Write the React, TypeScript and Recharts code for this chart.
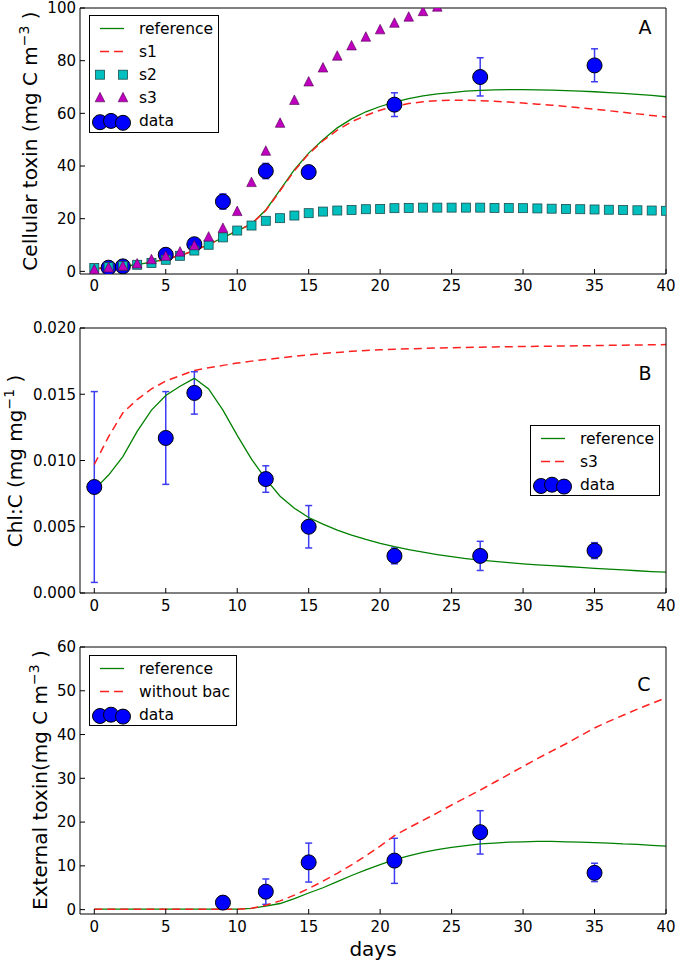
import React from "react";
import { ComposedChart, Line, Scatter, XAxis, YAxis, ErrorBar, Legend } from "recharts";

// ---- shared ----
const days = [
  0, 1, 2, 3, 4, 5, 6, 7, 8, 9, 10, 11, 12, 13, 14, 15, 16, 17, 18, 19, 20,
  21, 22, 23, 24, 25, 26, 27, 28, 29, 30, 31, 32, 33, 34, 35, 36, 37, 38, 39, 40,
];
const xTicks = [0, 5, 10, 15, 20, 25, 30, 35, 40];

// ---- panel A: cellular toxin ----
const aReference = [
  1.0, 1.4, 1.9, 2.6, 3.5, 4.6, 6.0, 7.9, 10.2, 12.8, 15.4, 18.0, 23.3, 30.9, 38.6, 44.9, 50.0,
  54.5, 57.9, 60.6, 62.6, 64.3, 65.6, 66.6, 67.4, 67.9, 68.4, 68.7, 68.9, 69.0, 69.0, 68.9, 68.8,
  68.6, 68.4, 68.2, 67.9, 67.6, 67.2, 66.8, 66.3,
];
const aS1 = [
  1.0, 1.4, 1.9, 2.6, 3.5, 4.6, 6.0, 7.9, 10.2, 12.8, 15.4, 18.0, 23.1, 30.6, 38.2, 44.6, 49.6,
  53.6, 56.8, 59.2, 61.2, 62.7, 63.7, 64.4, 64.8, 65.0, 65.0, 64.8, 64.6, 64.3, 63.9, 63.5, 63.1,
  62.6, 62.1, 61.6, 61.0, 60.4, 59.8, 59.2, 58.6,
];
const aS2 = [
  1.3, 1.6, 2.0, 2.5, 3.2, 4.4, 5.9, 7.9, 10.1, 12.9, 15.5, 17.4, 19.2, 20.2, 21.2, 22.1, 22.7,
  23.1, 23.3, 23.6, 23.7, 24.0, 24.1, 24.2, 24.2, 24.2, 24.2, 24.2, 24.1, 24.1, 24.0, 23.9, 23.8,
  23.7, 23.6, 23.5, 23.4, 23.3, 23.2, 23.1, 23.0,
];
const aS3 = [
  0.6, 1.3, 1.9, 2.8, 4.4, 5.7, 7.3, 9.7, 13.0, 16.3, 22.7, 33.7, 45.6, 56.2, 64.9, 71.9, 77.2,
  81.7, 85.6, 88.9, 91.7, 94.2, 96.5, 98.6, 100.3,
];
const aObsDays = [1, 2, 5, 7, 9, 12, 15, 21, 27, 35];
const aObsMean = [1.4, 1.9, 6.3, 10.3, 26.5, 38.1, 37.7, 63.3, 73.8, 78.2];
const aObsLow = [1.4, 1.9, 6.0, 9.9, 23.6, 35.2, 37.2, 58.8, 66.6, 72.0];
const aObsHigh = [1.4, 1.9, 6.6, 10.7, 29.4, 41.0, 38.2, 67.8, 81.1, 84.5];
const aTicks = [0, 20, 40, 60, 80, 100];

// ---- panel B: Chl:C ----
const bReference = [
  0.0078, 0.0089, 0.0103, 0.0122, 0.0138, 0.0149, 0.0156, 0.0162, 0.0154, 0.0138, 0.0119, 0.0101,
  0.0086, 0.0073, 0.0064, 0.0057, 0.0052, 0.00475, 0.00437, 0.00404, 0.00375, 0.0035, 0.00328,
  0.00308, 0.0029, 0.00274, 0.0026, 0.00248, 0.00238, 0.00229, 0.0022, 0.00213, 0.00206, 0.002,
  0.00194, 0.00186, 0.0018, 0.00174, 0.00168, 0.00162, 0.00157,
];
const bS3 = [
  0.0097, 0.0118, 0.0136, 0.0146, 0.0154, 0.016, 0.0164, 0.0168, 0.017, 0.01718, 0.01735, 0.0175,
  0.01762, 0.01774, 0.01786, 0.01798, 0.01808, 0.01816, 0.01824, 0.01831, 0.01836, 0.0184, 0.01843,
  0.01846, 0.01849, 0.01851, 0.01853, 0.01855, 0.01857, 0.01859, 0.0186, 0.01862, 0.01863, 0.01864,
  0.01866, 0.01867, 0.01869, 0.0187, 0.01872, 0.01873, 0.01875,
];
const bObsDays = [0, 5, 7, 12, 15, 21, 27, 35];
const bObsMean = [0.008, 0.0117, 0.0151, 0.0086, 0.005, 0.0028, 0.0028, 0.0032];
const bObsLow = [0.0008, 0.0082, 0.0135, 0.0076, 0.0034, 0.0022, 0.0017, 0.0026];
const bObsHigh = [0.0152, 0.0152, 0.0167, 0.0096, 0.0066, 0.0034, 0.0039, 0.0038];
const bTicks = [0, 0.005, 0.01, 0.015, 0.02];

// ---- panel C: external toxin ----
const cReference = [
  0.1, 0.1, 0.1, 0.1, 0.1, 0.1, 0.1, 0.1, 0.1, 0.1, 0.1, 0.3, 0.8, 1.4, 2.5, 3.8, 5.0, 6.4, 7.8,
  9.1, 10.3, 11.4, 12.3, 13.1, 13.7, 14.2, 14.6, 15.0, 15.2, 15.4, 15.5, 15.6, 15.6, 15.5, 15.4,
  15.3, 15.2, 15.0, 14.9, 14.7, 14.5,
];
const cWithoutBac = [
  0.1, 0.1, 0.1, 0.1, 0.1, 0.1, 0.1, 0.1, 0.1, 0.1, 0.1, 0.3, 1.0, 2.0, 3.3, 4.8, 6.5, 8.3, 10.2,
  12.3, 14.5, 16.9, 18.7, 20.4, 22.1, 23.9, 25.6, 27.3, 29.1, 30.9, 32.7, 34.5, 36.2, 37.9, 39.7,
  41.5, 43.0, 44.4, 45.8, 47.1, 48.4,
];
const cObsDays = [9, 12, 15, 21, 27, 35];
const cObsMean = [1.6, 4.1, 10.8, 11.2, 17.7, 8.4];
const cObsLow = [1.2, 1.2, 6.3, 6.0, 12.7, 6.4];
const cObsHigh = [2.0, 7.0, 15.2, 16.3, 22.6, 10.6];
const cTicks = [0, 10, 20, 30, 40, 50, 60];

// ---- helpers ----
const curve = (ys: number[]) => ys.map((y, i) => ({ x: days[i], y }));
const obs = (xs: number[], mean: number[], low: number[], high: number[]) =>
  xs.map((x, i) => ({ x, y: mean[i], err: [mean[i] - low[i], high[i] - mean[i]] }));

const FONT = "DejaVu Sans";
const GREEN = "#008000";
const RED = "#ff2020";
const frame = { stroke: "#000", strokeWidth: 1 };
const tickFont = { fontFamily: FONT, fontSize: 15, fill: "#000" };

const DataDot = (p: any) => (
  <circle cx={p.cx} cy={p.cy} r={7.5} fill="#0000ff" stroke="#000" strokeWidth={1} />
);
const SquareDot = (p: any) => (
  <rect x={p.cx - 4.5} y={p.cy - 4.5} width={9} height={9} fill="#00bfbf" stroke="#1d4d4d" strokeWidth={0.8} />
);
const TriangleDot = (p: any) => (
  <polygon
    points={`${p.cx},${p.cy - 5.5} ${p.cx + 4.8},${p.cy + 4} ${p.cx - 4.8},${p.cy + 4}`}
    fill="#bf00bf"
    stroke="#4a004a"
    strokeWidth={0.6}
  />
);

type Item = { label: string; kind: "line" | "dash" | "square" | "triangle" | "data" };

function LegendBox({ items, width, height }: { items: Item[]; width: number; height: number }) {
  return (
    <svg width={width} height={height} style={{ display: "block" }}>
      <rect x={0.5} y={0.5} width={width - 1} height={height - 1} fill="#fff" stroke="#000" />
      {items.map((it, i) => {
        const y = 13.5 + i * 23.1;
        let sample: React.ReactNode = null;
        if (it.kind === "line") sample = <line x1={11} x2={35} y1={y} y2={y} stroke={GREEN} strokeWidth={1.3} />;
        if (it.kind === "dash")
          sample = <line x1={11} x2={35} y1={y} y2={y} stroke={RED} strokeWidth={1.5} strokeDasharray="9 5" />;
        if (it.kind === "square")
          sample = (
            <g>
              <SquareDot cx={11} cy={y} />
              <SquareDot cx={34} cy={y} />
            </g>
          );
        if (it.kind === "triangle")
          sample = (
            <g>
              <TriangleDot cx={11} cy={y} />
              <TriangleDot cx={34} cy={y} />
            </g>
          );
        if (it.kind === "data")
          sample = (
            <g>
              <DataDot cx={11} cy={y + 1.3} />
              <DataDot cx={22} cy={y} />
              <DataDot cx={34} cy={y + 1.9} />
            </g>
          );
        return (
          <g key={it.label}>
            {sample}
            <text x={50} y={y} dominantBaseline="central" fontFamily={FONT} fontSize={15.5} fill="#000">
              {it.label}
            </text>
          </g>
        );
      })}
    </svg>
  );
}

const yLabel = (x: number, y: number, main: string, sup: string, tail: string) => (
  <text
    x={x}
    y={y}
    transform={`rotate(-90 ${x} ${y})`}
    textAnchor="middle"
    fontFamily={FONT}
    fontSize={20}
    fill="#000"
  >
    {main}
    <tspan dy={-8} fontSize={14}>
      {sup}
    </tspan>
    <tspan dy={8}>{tail}</tspan>
  </text>
);

const panelLetter = (x: number, y: number, s: string) => (
  <text x={x} y={y} textAnchor="middle" dominantBaseline="central" fontFamily={FONT} fontSize={19} fill="#000">
    {s}
  </text>
);

// bottom/left axes carry labels; top/right axes (1px) only close the frame with inward ticks
const axes = (yDomain: number[], yTicks: number[], xHeight: number, tickMargin: number, fmt?: (v: number) => string) => [
  <XAxis
    key="xb"
    xAxisId={0}
    dataKey="x"
    type="number"
    domain={[-1, 40]}
    ticks={xTicks}
    interval={0}
    allowDataOverflow
    height={xHeight}
    tickSize={-5}
    tickMargin={tickMargin}
    axisLine={frame}
    tickLine={frame}
    tick={tickFont}
  />,
  <XAxis
    key="xt"
    xAxisId="top"
    orientation="top"
    type="number"
    domain={[-1, 40]}
    ticks={xTicks}
    interval={0}
    allowDataOverflow
    height={1}
    tickSize={-5}
    axisLine={frame}
    tickLine={frame}
    tick={false}
  />,
  <YAxis
    key="yl"
    yAxisId={0}
    dataKey="y"
    type="number"
    domain={yDomain}
    ticks={yTicks}
    interval={0}
    allowDataOverflow
    width={80}
    tickSize={-5}
    tickMargin={9}
    axisLine={frame}
    tickLine={frame}
    tick={tickFont}
    tickFormatter={fmt}
  />,
  <YAxis
    key="yr"
    yAxisId="right"
    orientation="right"
    type="number"
    domain={yDomain}
    ticks={yTicks}
    interval={0}
    allowDataOverflow
    width={1}
    tickSize={-5}
    axisLine={frame}
    tickLine={frame}
    tick={false}
  />,
];

const errBar = <ErrorBar dataKey="err" direction="y" width={3.5} stroke="#3c3cf0" strokeWidth={1.5} />;

function PanelA() {
  return (
    <ComposedChart width={677} height={300} margin={{ top: 7, right: 10, bottom: 0, left: 0 }}>
      {axes([-1, 100], aTicks, 26, 11)}
      <Scatter data={obs(aObsDays, aObsMean, aObsLow, aObsHigh)} shape={DataDot} isAnimationActive={false}>
        {errBar}
      </Scatter>
      <Line data={curve(aReference)} dataKey="y" type="linear" stroke={GREEN} strokeWidth={1.3} dot={false} activeDot={false} isAnimationActive={false} />
      <Line data={curve(aS1)} dataKey="y" type="linear" stroke={RED} strokeWidth={1.5} strokeDasharray="8 5" dot={false} activeDot={false} isAnimationActive={false} />
      <Scatter data={curve(aS2)} shape={SquareDot} isAnimationActive={false} />
      <Scatter data={curve(aS3)} shape={TriangleDot} isAnimationActive={false} />
      {yLabel(37, 141, "Cellular toxin (mg C m", "\u22123", " )")}
      {panelLetter(645, 27, "A")}
      <Legend
        layout="horizontal"
        verticalAlign="middle"
        align="center"
        wrapperStyle={{ left: 89, top: 15, width: 130, height: 118 }}
        content={() => (
          <LegendBox
            width={130}
            height={118}
            items={[
              { label: "reference", kind: "line" },
              { label: "s1", kind: "dash" },
              { label: "s2", kind: "square" },
              { label: "s3", kind: "triangle" },
              { label: "data", kind: "data" },
            ]}
          />
        )}
      />
    </ComposedChart>
  );
}

function PanelB() {
  return (
    <ComposedChart width={677} height={320} margin={{ top: 27, right: 10, bottom: 0, left: 0 }}>
      {axes([0, 0.02], bTicks, 27, 12, (v) => v.toFixed(3))}
      <Scatter data={obs(bObsDays, bObsMean, bObsLow, bObsHigh)} shape={DataDot} isAnimationActive={false}>
        {errBar}
      </Scatter>
      <Line data={curve(bReference)} dataKey="y" type="linear" stroke={GREEN} strokeWidth={1.3} dot={false} activeDot={false} isAnimationActive={false} />
      <Line data={curve(bS3)} dataKey="y" type="linear" stroke={RED} strokeWidth={1.5} strokeDasharray="8 5" dot={false} activeDot={false} isAnimationActive={false} />
      {yLabel(22, 161, "Chl:C (mg mg", "\u22121", " )")}
      {panelLetter(645, 73, "B")}
      <Legend
        layout="horizontal"
        verticalAlign="middle"
        align="center"
        wrapperStyle={{ left: 530, top: 125, width: 130, height: 71 }}
        content={() => (
          <LegendBox
            width={130}
            height={71}
            items={[
              { label: "reference", kind: "line" },
              { label: "s3", kind: "dash" },
              { label: "data", kind: "data" },
            ]}
          />
        )}
      />
    </ComposedChart>
  );
}

function PanelC() {
  return (
    <ComposedChart width={677} height={340} margin={{ top: 26, right: 10, bottom: 0, left: 0 }}>
      {axes([-1, 60], cTicks, 46, 12)}
      <Scatter data={obs(cObsDays, cObsMean, cObsLow, cObsHigh)} shape={DataDot} isAnimationActive={false}>
        {errBar}
      </Scatter>
      <Line data={curve(cReference)} dataKey="y" type="linear" stroke={GREEN} strokeWidth={1.3} dot={false} activeDot={false} isAnimationActive={false} />
      <Line data={curve(cWithoutBac)} dataKey="y" type="linear" stroke={RED} strokeWidth={1.5} strokeDasharray="8 5" dot={false} activeDot={false} isAnimationActive={false} />
      {yLabel(47, 160, "External toxin(mg C m", "\u22123", " )")}
      {panelLetter(644, 64, "C")}
      <text x={373} y={336} textAnchor="middle" fontFamily={FONT} fontSize={20} fill="#000">
        days
      </text>
      <Legend
        layout="horizontal"
        verticalAlign="middle"
        align="center"
        wrapperStyle={{ left: 89, top: 35, width: 148, height: 71 }}
        content={() => (
          <LegendBox
            width={148}
            height={71}
            items={[
              { label: "reference", kind: "line" },
              { label: "without bac", kind: "dash" },
              { label: "data", kind: "data" },
            ]}
          />
        )}
      />
    </ComposedChart>
  );
}

export default function App() {
  return (
    <div style={{ position: "absolute", left: 0, top: 0, width: 677, height: 960, background: "#fff" }}>
      <div style={{ position: "absolute", left: 0, top: 0 }}>
        <PanelA />
      </div>
      <div style={{ position: "absolute", left: 0, top: 300 }}>
        <PanelB />
      </div>
      <div style={{ position: "absolute", left: 0, top: 620 }}>
        <PanelC />
      </div>
    </div>
  );
}
